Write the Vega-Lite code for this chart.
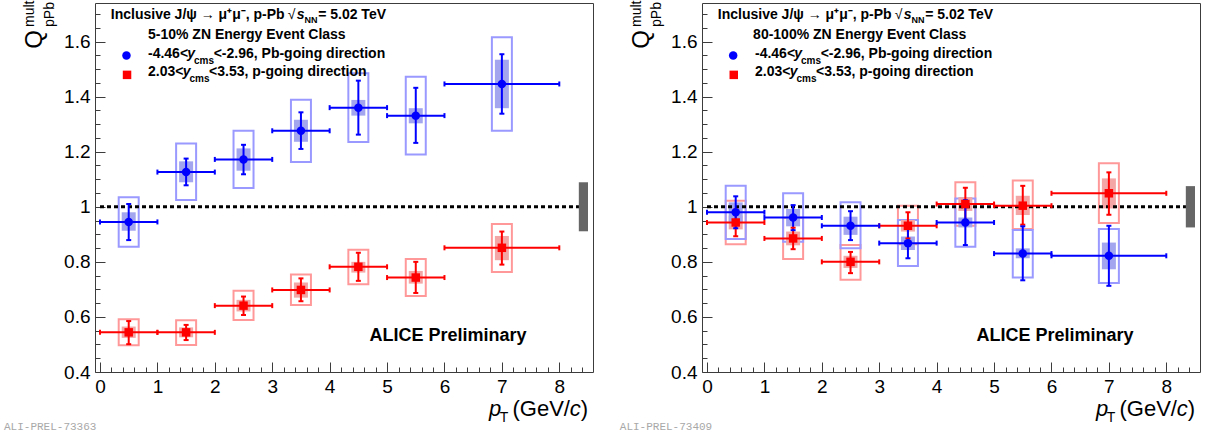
{
 "$schema": "https://vega.github.io/schema/vega-lite/v6.json",
 "padding": {"left": 3, "top": 0, "right": 0, "bottom": 0},
 "background": "white",
 "spacing": 109,
 "bounds": "flush",
 "config": {
  "view": {"stroke": "#3c3c3c", "strokeWidth": 1},
  "axis": {"grid": false, "domain": false, "tickColor": "#3c3c3c", "tickWidth": 1, "labelFont": "Liberation Sans", "labelFontSize": 19, "labelColor": "#000000", "labelFlush": false, "labelOverlap": false},
  "text": {"font": "Liberation Sans"}
 },
 "datasets": {
  "left": [
   {"series": "p", "x": 0.5, "xlo": 0, "xhi": 1, "y": 0.544, "slo": 0.501, "shi": 0.585, "ylo": 0.497, "yhi": 0.592, "clo": 0.524, "chi": 0.565},
   {"series": "p", "x": 1.5, "xlo": 1, "xhi": 2, "y": 0.544, "slo": 0.516, "shi": 0.571, "ylo": 0.498, "yhi": 0.588, "clo": 0.526, "chi": 0.562},
   {"series": "p", "x": 2.5, "xlo": 2, "xhi": 3, "y": 0.641, "slo": 0.607, "shi": 0.674, "ylo": 0.589, "yhi": 0.695, "clo": 0.62, "chi": 0.662},
   {"series": "p", "x": 3.5, "xlo": 3, "xhi": 4, "y": 0.698, "slo": 0.657, "shi": 0.74, "ylo": 0.643, "yhi": 0.754, "clo": 0.67, "chi": 0.725},
   {"series": "p", "x": 4.5, "xlo": 4, "xhi": 5, "y": 0.782, "slo": 0.731, "shi": 0.833, "ylo": 0.719, "yhi": 0.844, "clo": 0.761, "chi": 0.8},
   {"series": "p", "x": 5.5, "xlo": 5, "xhi": 6, "y": 0.743, "slo": 0.687, "shi": 0.8, "ylo": 0.676, "yhi": 0.81, "clo": 0.721, "chi": 0.767},
   {"series": "p", "x": 7, "xlo": 6, "xhi": 8, "y": 0.851, "slo": 0.79, "shi": 0.91, "ylo": 0.763, "yhi": 0.937, "clo": 0.806, "chi": 0.894},
   {"series": "Pb", "x": 0.5, "xlo": 0, "xhi": 1, "y": 0.945, "slo": 0.879, "shi": 1.01, "ylo": 0.855, "yhi": 1.035, "clo": 0.913, "chi": 0.98},
   {"series": "Pb", "x": 1.5, "xlo": 1, "xhi": 2, "y": 1.126, "slo": 1.078, "shi": 1.175, "ylo": 1.025, "yhi": 1.23, "clo": 1.089, "chi": 1.165},
   {"series": "Pb", "x": 2.5, "xlo": 2, "xhi": 3, "y": 1.172, "slo": 1.118, "shi": 1.225, "ylo": 1.068, "yhi": 1.276, "clo": 1.131, "chi": 1.212},
   {"series": "Pb", "x": 3.5, "xlo": 3, "xhi": 4, "y": 1.276, "slo": 1.21, "shi": 1.343, "ylo": 1.163, "yhi": 1.389, "clo": 1.236, "chi": 1.316},
   {"series": "Pb", "x": 4.5, "xlo": 4, "xhi": 5, "y": 1.36, "slo": 1.262, "shi": 1.458, "ylo": 1.235, "yhi": 1.485, "clo": 1.331, "chi": 1.388},
   {"series": "Pb", "x": 5.5, "xlo": 5, "xhi": 6, "y": 1.331, "slo": 1.232, "shi": 1.432, "ylo": 1.19, "yhi": 1.472, "clo": 1.303, "chi": 1.358},
   {"series": "Pb", "x": 7, "xlo": 6, "xhi": 8, "y": 1.446, "slo": 1.338, "shi": 1.554, "ylo": 1.276, "yhi": 1.616, "clo": 1.358, "chi": 1.534}
  ],
  "right": [
   {"series": "p", "x": 0.5, "xlo": 0, "xhi": 1, "y": 0.943, "slo": 0.893, "shi": 0.99, "ylo": 0.864, "yhi": 1.022, "clo": 0.918, "chi": 0.968},
   {"series": "p", "x": 1.5, "xlo": 1, "xhi": 2, "y": 0.885, "slo": 0.846, "shi": 0.924, "ylo": 0.81, "yhi": 0.96, "clo": 0.86, "chi": 0.91},
   {"series": "p", "x": 2.5, "xlo": 2, "xhi": 3, "y": 0.8, "slo": 0.759, "shi": 0.836, "ylo": 0.735, "yhi": 0.861, "clo": 0.778, "chi": 0.822},
   {"series": "p", "x": 3.5, "xlo": 3, "xhi": 4, "y": 0.931, "slo": 0.885, "shi": 0.98, "ylo": 0.864, "yhi": 1.004, "clo": 0.91, "chi": 0.952},
   {"series": "p", "x": 4.5, "xlo": 4, "xhi": 5, "y": 1.01, "slo": 0.952, "shi": 1.069, "ylo": 0.931, "yhi": 1.089, "clo": 0.985, "chi": 1.035},
   {"series": "p", "x": 5.5, "xlo": 5, "xhi": 6, "y": 1.004, "slo": 0.935, "shi": 1.076, "ylo": 0.919, "yhi": 1.095, "clo": 0.97, "chi": 1.04},
   {"series": "p", "x": 7, "xlo": 6, "xhi": 8, "y": 1.049, "slo": 0.971, "shi": 1.125, "ylo": 0.941, "yhi": 1.158, "clo": 0.994, "chi": 1.103},
   {"series": "Pb", "x": 0.5, "xlo": 0, "xhi": 1, "y": 0.98, "slo": 0.922, "shi": 1.038, "ylo": 0.883, "yhi": 1.076, "clo": 0.943, "chi": 1.016},
   {"series": "Pb", "x": 1.5, "xlo": 1, "xhi": 2, "y": 0.961, "slo": 0.915, "shi": 1.006, "ylo": 0.873, "yhi": 1.049, "clo": 0.929, "chi": 0.992},
   {"series": "Pb", "x": 2.5, "xlo": 2, "xhi": 3, "y": 0.931, "slo": 0.879, "shi": 0.984, "ylo": 0.849, "yhi": 1.016, "clo": 0.898, "chi": 0.964},
   {"series": "Pb", "x": 3.5, "xlo": 3, "xhi": 4, "y": 0.868, "slo": 0.813, "shi": 0.925, "ylo": 0.785, "yhi": 0.952, "clo": 0.843, "chi": 0.892},
   {"series": "Pb", "x": 4.5, "xlo": 4, "xhi": 5, "y": 0.943, "slo": 0.861, "shi": 1.024, "ylo": 0.855, "yhi": 1.03, "clo": 0.925, "chi": 0.961},
   {"series": "Pb", "x": 5.5, "xlo": 5, "xhi": 6, "y": 0.83, "slo": 0.733, "shi": 0.929, "ylo": 0.743, "yhi": 0.916, "clo": 0.813, "chi": 0.849},
   {"series": "Pb", "x": 7, "xlo": 6, "xhi": 8, "y": 0.822, "slo": 0.713, "shi": 0.931, "ylo": 0.723, "yhi": 0.919, "clo": 0.773, "chi": 0.87}
  ]
 },
 "hconcat": [
  {
   "width": 498, "height": 369,
   "data": {"name": "left"},
   "resolve": {"axis": {"x": "independent", "y": "independent"}},
   "layer": [
    {"mark": {"type": "bar", "size": 20, "fillOpacity": 0, "strokeWidth": 2},
     "encoding": {"x": {"field": "x", "type": "quantitative", "axis": null}, "y": {"field": "ylo", "type": "quantitative", "axis": null}, "y2": {"field": "yhi"},
      "stroke": {"field": "series", "type": "nominal", "scale": {"domain": ["Pb", "p"], "range": ["#9999ff", "#ff9999"]}, "legend": null}}},
    {"mark": {"type": "bar", "size": 14, "strokeWidth": 0},
     "encoding": {"x": {"field": "x", "type": "quantitative", "axis": null}, "y": {"field": "clo", "type": "quantitative", "axis": null}, "y2": {"field": "chi"},
      "fill": {"field": "series", "type": "nominal", "scale": {"domain": ["Pb", "p"], "range": ["#a3a6ef", "#f4a5a5"]}, "legend": null}}},
    {"data": {"values": [{}]}, "mark": {"type": "rule", "color": "black", "strokeWidth": 3, "strokeDash": [4, 3]},
     "encoding": {
      "x": {"datum": 0, "type": "quantitative", "scale": {"domain": [0, 8.5], "nice": false, "zero": false}, "axis": {"orient": "bottom", "values": [0, 1, 2, 3, 4, 5, 6, 7, 8], "format": "d", "tickSize": -10, "labelPadding": 15, "title": null}},
      "x2": {"datum": 8.35},
      "y": {"datum": 1, "type": "quantitative", "scale": {"domain": [0.4, 1.74], "nice": false, "zero": false}, "axis": {"orient": "left", "values": [0.4, 0.6, 0.8, 1, 1.2, 1.4, 1.6], "format": ".1~f", "tickSize": -10, "labelPadding": 15, "title": null}}}},
    {"data": {"values": [{}]}, "mark": {"type": "rect", "color": "#666666"},
     "encoding": {
      "x": {"datum": 8.34, "type": "quantitative", "axis": {"orient": "bottom", "values": [0.2, 0.4, 0.6, 0.8, 1.2, 1.4, 1.6, 1.8, 2.2, 2.4, 2.6, 2.8, 3.2, 3.4, 3.6, 3.8, 4.2, 4.4, 4.6, 4.8, 5.2, 5.4, 5.6, 5.8, 6.2, 6.4, 6.6, 6.8, 7.2, 7.4, 7.6, 7.8, 8.2, 8.4], "tickSize": -5, "labels": false, "title": null}},
      "x2": {"datum": 8.5},
      "y": {"datum": 0.911, "type": "quantitative", "axis": {"orient": "left", "values": [0.45, 0.5, 0.55, 0.65, 0.7, 0.75, 0.85, 0.9, 0.95, 1.05, 1.1, 1.15, 1.25, 1.3, 1.35, 1.45, 1.5, 1.55, 1.65, 1.7], "tickSize": -5, "labels": false, "title": null}},
      "y2": {"datum": 1.089}}},
    {"mark": {"type": "rule", "strokeWidth": 2},
     "encoding": {"x": {"field": "xlo", "type": "quantitative", "axis": null}, "x2": {"field": "xhi"}, "y": {"field": "y", "type": "quantitative", "axis": null},
      "color": {"field": "series", "type": "nominal", "scale": {"domain": ["Pb", "p"], "range": ["#0000ff", "#ff0000"]}, "legend": null}}},
    {"mark": {"type": "rule", "strokeWidth": 2},
     "encoding": {"x": {"field": "x", "type": "quantitative", "axis": null}, "y": {"field": "slo", "type": "quantitative", "axis": null}, "y2": {"field": "shi"},
      "color": {"field": "series", "type": "nominal", "legend": null}}},
    {"transform": [{"fold": ["xlo", "xhi"], "as": ["k", "xe"]}],
     "mark": {"type": "tick", "orient": "vertical", "size": 5, "thickness": 2, "opacity": 1},
     "encoding": {"x": {"field": "xe", "type": "quantitative", "axis": null}, "y": {"field": "y", "type": "quantitative", "axis": null},
      "color": {"field": "series", "type": "nominal", "legend": null}}},
    {"transform": [{"fold": ["slo", "shi"], "as": ["k", "ye"]}],
     "mark": {"type": "tick", "orient": "horizontal", "size": 5, "thickness": 2, "opacity": 1},
     "encoding": {"x": {"field": "x", "type": "quantitative", "axis": null}, "y": {"field": "ye", "type": "quantitative", "axis": null},
      "color": {"field": "series", "type": "nominal", "legend": null}}},
    {"mark": {"type": "point", "filled": true, "size": 72, "opacity": 1},
     "encoding": {"x": {"field": "x", "type": "quantitative", "axis": null}, "y": {"field": "y", "type": "quantitative", "axis": null},
      "color": {"field": "series", "type": "nominal", "legend": null},
      "shape": {"field": "series", "type": "nominal", "scale": {"domain": ["Pb", "p"], "range": ["circle", "square"]}, "legend": null}}},
    {"data": {"values": [{}]}, "mark": {"type": "point", "filled": true, "size": 72, "opacity": 1, "shape": "circle", "color": "#0000ff"},
     "encoding": {"x": {"datum": 0.461, "axis": null}, "y": {"datum": 1.549, "axis": null}}},
    {"data": {"values": [{}]}, "mark": {"type": "point", "filled": true, "size": 72, "opacity": 1, "shape": "square", "color": "#ff0000"},
     "encoding": {"x": {"datum": 0.471, "axis": null}, "y": {"datum": 1.479, "axis": null}}},
    {"data": {"values": [{}]}, "mark": {"type": "text", "text": "Inclusive J/ψ → μ⁺μ⁻, p-Pb", "fontSize": 14, "fontWeight": "bold", "align": "left", "baseline": "alphabetic"},
     "encoding": {"x": {"datum": 0.188, "axis": null}, "y": {"datum": 1.6825, "axis": null}}},
    {"data": {"values": [{}]}, "mark": {"type": "text", "text": "√", "fontSize": 14, "align": "left", "baseline": "alphabetic"},
     "encoding": {"x": {"datum": 3.27, "axis": null}, "y": {"datum": 1.6825, "axis": null}}},
    {"data": {"values": [{}]}, "mark": {"type": "text", "text": "s", "fontSize": 14, "fontWeight": "bold", "fontStyle": "italic", "align": "left", "baseline": "alphabetic"},
     "encoding": {"x": {"datum": 3.425, "axis": null}, "y": {"datum": 1.6825, "axis": null}}},
    {"data": {"values": [{}]}, "mark": {"type": "text", "text": "NN", "fontSize": 9, "fontWeight": "bold", "align": "left", "baseline": "alphabetic"},
     "encoding": {"x": {"datum": 3.56, "axis": null}, "y": {"datum": 1.668, "axis": null}}},
    {"data": {"values": [{}]}, "mark": {"type": "text", "text": "= 5.02 TeV", "fontSize": 14, "fontWeight": "bold", "align": "left", "baseline": "alphabetic"},
     "encoding": {"x": {"datum": 3.8, "axis": null}, "y": {"datum": 1.6825, "axis": null}}},
    {"data": {"values": [{}]}, "mark": {"type": "text", "text": "5-10% ZN Energy Event Class", "fontSize": 14, "fontWeight": "bold", "align": "left", "baseline": "alphabetic"},
     "encoding": {"x": {"datum": 0.836, "axis": null}, "y": {"datum": 1.61, "axis": null}}},
    {"data": {"values": [{}]}, "mark": {"type": "text", "text": "-4.46<", "fontSize": 14, "fontWeight": "bold", "align": "left", "baseline": "alphabetic"},
     "encoding": {"x": {"datum": 0.836, "axis": null}, "y": {"datum": 1.5396, "axis": null}}},
    {"data": {"values": [{}]}, "mark": {"type": "text", "text": "y", "fontSize": 14, "fontWeight": "bold", "fontStyle": "italic", "align": "left", "baseline": "alphabetic"},
     "encoding": {"x": {"datum": 1.52, "axis": null}, "y": {"datum": 1.5396, "axis": null}}},
    {"data": {"values": [{}]}, "mark": {"type": "text", "text": "cms", "fontSize": 10, "fontWeight": "bold", "align": "left", "baseline": "alphabetic"},
     "encoding": {"x": {"datum": 1.638, "axis": null}, "y": {"datum": 1.519, "axis": null}}},
    {"data": {"values": [{}]}, "mark": {"type": "text", "text": "<-2.96, Pb-going direction", "fontSize": 14, "fontWeight": "bold", "align": "left", "baseline": "alphabetic"},
     "encoding": {"x": {"datum": 1.98, "axis": null}, "y": {"datum": 1.5396, "axis": null}}},
    {"data": {"values": [{}]}, "mark": {"type": "text", "text": "2.03<", "fontSize": 14, "fontWeight": "bold", "align": "left", "baseline": "alphabetic"},
     "encoding": {"x": {"datum": 0.836, "axis": null}, "y": {"datum": 1.474, "axis": null}}},
    {"data": {"values": [{}]}, "mark": {"type": "text", "text": "y", "fontSize": 14, "fontWeight": "bold", "fontStyle": "italic", "align": "left", "baseline": "alphabetic"},
     "encoding": {"x": {"datum": 1.44, "axis": null}, "y": {"datum": 1.474, "axis": null}}},
    {"data": {"values": [{}]}, "mark": {"type": "text", "text": "cms", "fontSize": 10, "fontWeight": "bold", "align": "left", "baseline": "alphabetic"},
     "encoding": {"x": {"datum": 1.56, "axis": null}, "y": {"datum": 1.453, "axis": null}}},
    {"data": {"values": [{}]}, "mark": {"type": "text", "text": "<3.53, p-going direction", "fontSize": 14, "fontWeight": "bold", "align": "left", "baseline": "alphabetic"},
     "encoding": {"x": {"datum": 1.9, "axis": null}, "y": {"datum": 1.474, "axis": null}}},
    {"data": {"values": [{}]}, "mark": {"type": "text", "text": "ALICE Preliminary", "fontSize": 18, "fontWeight": "bold", "align": "left", "baseline": "alphabetic"},
     "encoding": {"x": {"datum": 4.693, "axis": null}, "y": {"datum": 0.513, "axis": null}}},
    {"data": {"values": [{}]}, "mark": {"type": "text", "text": "Q", "fontSize": 24, "angle": 270, "align": "left", "baseline": "alphabetic"},
     "encoding": {"x": {"datum": -1.007, "axis": null}, "y": {"datum": 1.574, "axis": null}}},
    {"data": {"values": [{}]}, "mark": {"type": "text", "text": "mult", "fontSize": 14, "angle": 270, "align": "left", "baseline": "alphabetic"},
     "encoding": {"x": {"datum": -1.143, "axis": null}, "y": {"datum": 1.653, "axis": null}}},
    {"data": {"values": [{}]}, "mark": {"type": "text", "text": "pPb", "fontSize": 14, "angle": 270, "align": "left", "baseline": "alphabetic"},
     "encoding": {"x": {"datum": -0.802, "axis": null}, "y": {"datum": 1.653, "axis": null}}},
    {"data": {"values": [{}]}, "mark": {"type": "text", "text": "p", "fontSize": 22, "fontStyle": "italic", "align": "left", "baseline": "alphabetic"},
     "encoding": {"x": {"datum": 6.775, "axis": null}, "y": {"datum": 0.24, "axis": null}}},
    {"data": {"values": [{}]}, "mark": {"type": "text", "text": "T", "fontSize": 14, "align": "left", "baseline": "alphabetic"},
     "encoding": {"x": {"datum": 6.962, "axis": null}, "y": {"datum": 0.218, "axis": null}}},
    {"data": {"values": [{}]}, "mark": {"type": "text", "text": "(GeV/", "fontSize": 22, "align": "right", "baseline": "alphabetic"},
     "encoding": {"x": {"datum": 8.186, "axis": null}, "y": {"datum": 0.24, "axis": null}}},
    {"data": {"values": [{}]}, "mark": {"type": "text", "text": "c", "fontSize": 22, "fontStyle": "italic", "align": "right", "baseline": "alphabetic"},
     "encoding": {"x": {"datum": 8.374, "axis": null}, "y": {"datum": 0.24, "axis": null}}},
    {"data": {"values": [{}]}, "mark": {"type": "text", "text": ")", "fontSize": 22, "align": "right", "baseline": "alphabetic"},
     "encoding": {"x": {"datum": 8.5, "axis": null}, "y": {"datum": 0.24, "axis": null}}},
    {"data": {"values": [{}]}, "mark": {"type": "text", "text": "ALI-PREL-73363", "font": "Liberation Mono", "fontSize": 11, "color": "#a8a8a8", "align": "left", "baseline": "alphabetic"},
     "encoding": {"x": {"datum": -1.672, "axis": null}, "y": {"datum": 0.19, "axis": null}}}
   ]
  },
  {
   "width": 498, "height": 369,
   "data": {"name": "right"},
   "resolve": {"axis": {"x": "independent", "y": "independent"}},
   "layer": [
    {"mark": {"type": "bar", "size": 20, "fillOpacity": 0, "strokeWidth": 2},
     "encoding": {"x": {"field": "x", "type": "quantitative", "axis": null}, "y": {"field": "ylo", "type": "quantitative", "axis": null}, "y2": {"field": "yhi"},
      "stroke": {"field": "series", "type": "nominal", "scale": {"domain": ["Pb", "p"], "range": ["#9999ff", "#ff9999"]}, "legend": null}}},
    {"mark": {"type": "bar", "size": 14, "strokeWidth": 0},
     "encoding": {"x": {"field": "x", "type": "quantitative", "axis": null}, "y": {"field": "clo", "type": "quantitative", "axis": null}, "y2": {"field": "chi"},
      "fill": {"field": "series", "type": "nominal", "scale": {"domain": ["Pb", "p"], "range": ["#a3a6ef", "#f4a5a5"]}, "legend": null}}},
    {"data": {"values": [{}]}, "mark": {"type": "rule", "color": "black", "strokeWidth": 3, "strokeDash": [4, 3]},
     "encoding": {
      "x": {"datum": 0, "type": "quantitative", "scale": {"domain": [0, 8.5], "nice": false, "zero": false}, "axis": {"orient": "bottom", "values": [0, 1, 2, 3, 4, 5, 6, 7, 8], "format": "d", "tickSize": -10, "labelPadding": 15, "title": null}},
      "x2": {"datum": 8.35},
      "y": {"datum": 1, "type": "quantitative", "scale": {"domain": [0.4, 1.74], "nice": false, "zero": false}, "axis": {"orient": "left", "values": [0.4, 0.6, 0.8, 1, 1.2, 1.4, 1.6], "format": ".1~f", "tickSize": -10, "labelPadding": 15, "title": null}}}},
    {"data": {"values": [{}]}, "mark": {"type": "rect", "color": "#666666"},
     "encoding": {
      "x": {"datum": 8.34, "type": "quantitative", "axis": {"orient": "bottom", "values": [0.2, 0.4, 0.6, 0.8, 1.2, 1.4, 1.6, 1.8, 2.2, 2.4, 2.6, 2.8, 3.2, 3.4, 3.6, 3.8, 4.2, 4.4, 4.6, 4.8, 5.2, 5.4, 5.6, 5.8, 6.2, 6.4, 6.6, 6.8, 7.2, 7.4, 7.6, 7.8, 8.2, 8.4], "tickSize": -5, "labels": false, "title": null}},
      "x2": {"datum": 8.5},
      "y": {"datum": 0.925, "type": "quantitative", "axis": {"orient": "left", "values": [0.45, 0.5, 0.55, 0.65, 0.7, 0.75, 0.85, 0.9, 0.95, 1.05, 1.1, 1.15, 1.25, 1.3, 1.35, 1.45, 1.5, 1.55, 1.65, 1.7], "tickSize": -5, "labels": false, "title": null}},
      "y2": {"datum": 1.075}}},
    {"mark": {"type": "rule", "strokeWidth": 2},
     "encoding": {"x": {"field": "xlo", "type": "quantitative", "axis": null}, "x2": {"field": "xhi"}, "y": {"field": "y", "type": "quantitative", "axis": null},
      "color": {"field": "series", "type": "nominal", "scale": {"domain": ["Pb", "p"], "range": ["#0000ff", "#ff0000"]}, "legend": null}}},
    {"mark": {"type": "rule", "strokeWidth": 2},
     "encoding": {"x": {"field": "x", "type": "quantitative", "axis": null}, "y": {"field": "slo", "type": "quantitative", "axis": null}, "y2": {"field": "shi"},
      "color": {"field": "series", "type": "nominal", "legend": null}}},
    {"transform": [{"fold": ["xlo", "xhi"], "as": ["k", "xe"]}],
     "mark": {"type": "tick", "orient": "vertical", "size": 5, "thickness": 2, "opacity": 1},
     "encoding": {"x": {"field": "xe", "type": "quantitative", "axis": null}, "y": {"field": "y", "type": "quantitative", "axis": null},
      "color": {"field": "series", "type": "nominal", "legend": null}}},
    {"transform": [{"fold": ["slo", "shi"], "as": ["k", "ye"]}],
     "mark": {"type": "tick", "orient": "horizontal", "size": 5, "thickness": 2, "opacity": 1},
     "encoding": {"x": {"field": "x", "type": "quantitative", "axis": null}, "y": {"field": "ye", "type": "quantitative", "axis": null},
      "color": {"field": "series", "type": "nominal", "legend": null}}},
    {"mark": {"type": "point", "filled": true, "size": 72, "opacity": 1},
     "encoding": {"x": {"field": "x", "type": "quantitative", "axis": null}, "y": {"field": "y", "type": "quantitative", "axis": null},
      "color": {"field": "series", "type": "nominal", "legend": null},
      "shape": {"field": "series", "type": "nominal", "scale": {"domain": ["Pb", "p"], "range": ["circle", "square"]}, "legend": null}}},
    {"data": {"values": [{}]}, "mark": {"type": "point", "filled": true, "size": 72, "opacity": 1, "shape": "circle", "color": "#0000ff"},
     "encoding": {"x": {"datum": 0.456, "axis": null}, "y": {"datum": 1.549, "axis": null}}},
    {"data": {"values": [{}]}, "mark": {"type": "point", "filled": true, "size": 72, "opacity": 1, "shape": "square", "color": "#ff0000"},
     "encoding": {"x": {"datum": 0.466, "axis": null}, "y": {"datum": 1.479, "axis": null}}},
    {"data": {"values": [{}]}, "mark": {"type": "text", "text": "Inclusive J/ψ → μ⁺μ⁻, p-Pb", "fontSize": 14, "fontWeight": "bold", "align": "left", "baseline": "alphabetic"},
     "encoding": {"x": {"datum": 0.188, "axis": null}, "y": {"datum": 1.6825, "axis": null}}},
    {"data": {"values": [{}]}, "mark": {"type": "text", "text": "√", "fontSize": 14, "align": "left", "baseline": "alphabetic"},
     "encoding": {"x": {"datum": 3.27, "axis": null}, "y": {"datum": 1.6825, "axis": null}}},
    {"data": {"values": [{}]}, "mark": {"type": "text", "text": "s", "fontSize": 14, "fontWeight": "bold", "fontStyle": "italic", "align": "left", "baseline": "alphabetic"},
     "encoding": {"x": {"datum": 3.425, "axis": null}, "y": {"datum": 1.6825, "axis": null}}},
    {"data": {"values": [{}]}, "mark": {"type": "text", "text": "NN", "fontSize": 9, "fontWeight": "bold", "align": "left", "baseline": "alphabetic"},
     "encoding": {"x": {"datum": 3.56, "axis": null}, "y": {"datum": 1.668, "axis": null}}},
    {"data": {"values": [{}]}, "mark": {"type": "text", "text": "= 5.02 TeV", "fontSize": 14, "fontWeight": "bold", "align": "left", "baseline": "alphabetic"},
     "encoding": {"x": {"datum": 3.8, "axis": null}, "y": {"datum": 1.6825, "axis": null}}},
    {"data": {"values": [{}]}, "mark": {"type": "text", "text": "80-100% ZN Energy Event Class", "fontSize": 14, "fontWeight": "bold", "align": "left", "baseline": "alphabetic"},
     "encoding": {"x": {"datum": 0.803, "axis": null}, "y": {"datum": 1.61, "axis": null}}},
    {"data": {"values": [{}]}, "mark": {"type": "text", "text": "-4.46<", "fontSize": 14, "fontWeight": "bold", "align": "left", "baseline": "alphabetic"},
     "encoding": {"x": {"datum": 0.836, "axis": null}, "y": {"datum": 1.5396, "axis": null}}},
    {"data": {"values": [{}]}, "mark": {"type": "text", "text": "y", "fontSize": 14, "fontWeight": "bold", "fontStyle": "italic", "align": "left", "baseline": "alphabetic"},
     "encoding": {"x": {"datum": 1.52, "axis": null}, "y": {"datum": 1.5396, "axis": null}}},
    {"data": {"values": [{}]}, "mark": {"type": "text", "text": "cms", "fontSize": 10, "fontWeight": "bold", "align": "left", "baseline": "alphabetic"},
     "encoding": {"x": {"datum": 1.638, "axis": null}, "y": {"datum": 1.519, "axis": null}}},
    {"data": {"values": [{}]}, "mark": {"type": "text", "text": "<-2.96, Pb-going direction", "fontSize": 14, "fontWeight": "bold", "align": "left", "baseline": "alphabetic"},
     "encoding": {"x": {"datum": 1.98, "axis": null}, "y": {"datum": 1.5396, "axis": null}}},
    {"data": {"values": [{}]}, "mark": {"type": "text", "text": "2.03<", "fontSize": 14, "fontWeight": "bold", "align": "left", "baseline": "alphabetic"},
     "encoding": {"x": {"datum": 0.836, "axis": null}, "y": {"datum": 1.474, "axis": null}}},
    {"data": {"values": [{}]}, "mark": {"type": "text", "text": "y", "fontSize": 14, "fontWeight": "bold", "fontStyle": "italic", "align": "left", "baseline": "alphabetic"},
     "encoding": {"x": {"datum": 1.44, "axis": null}, "y": {"datum": 1.474, "axis": null}}},
    {"data": {"values": [{}]}, "mark": {"type": "text", "text": "cms", "fontSize": 10, "fontWeight": "bold", "align": "left", "baseline": "alphabetic"},
     "encoding": {"x": {"datum": 1.56, "axis": null}, "y": {"datum": 1.453, "axis": null}}},
    {"data": {"values": [{}]}, "mark": {"type": "text", "text": "<3.53, p-going direction", "fontSize": 14, "fontWeight": "bold", "align": "left", "baseline": "alphabetic"},
     "encoding": {"x": {"datum": 1.9, "axis": null}, "y": {"datum": 1.474, "axis": null}}},
    {"data": {"values": [{}]}, "mark": {"type": "text", "text": "ALICE Preliminary", "fontSize": 18, "fontWeight": "bold", "align": "left", "baseline": "alphabetic"},
     "encoding": {"x": {"datum": 4.693, "axis": null}, "y": {"datum": 0.513, "axis": null}}},
    {"data": {"values": [{}]}, "mark": {"type": "text", "text": "Q", "fontSize": 24, "angle": 270, "align": "left", "baseline": "alphabetic"},
     "encoding": {"x": {"datum": -1.007, "axis": null}, "y": {"datum": 1.574, "axis": null}}},
    {"data": {"values": [{}]}, "mark": {"type": "text", "text": "mult", "fontSize": 14, "angle": 270, "align": "left", "baseline": "alphabetic"},
     "encoding": {"x": {"datum": -1.143, "axis": null}, "y": {"datum": 1.653, "axis": null}}},
    {"data": {"values": [{}]}, "mark": {"type": "text", "text": "pPb", "fontSize": 14, "angle": 270, "align": "left", "baseline": "alphabetic"},
     "encoding": {"x": {"datum": -0.802, "axis": null}, "y": {"datum": 1.653, "axis": null}}},
    {"data": {"values": [{}]}, "mark": {"type": "text", "text": "p", "fontSize": 22, "fontStyle": "italic", "align": "left", "baseline": "alphabetic"},
     "encoding": {"x": {"datum": 6.775, "axis": null}, "y": {"datum": 0.24, "axis": null}}},
    {"data": {"values": [{}]}, "mark": {"type": "text", "text": "T", "fontSize": 14, "align": "left", "baseline": "alphabetic"},
     "encoding": {"x": {"datum": 6.962, "axis": null}, "y": {"datum": 0.218, "axis": null}}},
    {"data": {"values": [{}]}, "mark": {"type": "text", "text": "(GeV/", "fontSize": 22, "align": "right", "baseline": "alphabetic"},
     "encoding": {"x": {"datum": 8.186, "axis": null}, "y": {"datum": 0.24, "axis": null}}},
    {"data": {"values": [{}]}, "mark": {"type": "text", "text": "c", "fontSize": 22, "fontStyle": "italic", "align": "right", "baseline": "alphabetic"},
     "encoding": {"x": {"datum": 8.374, "axis": null}, "y": {"datum": 0.24, "axis": null}}},
    {"data": {"values": [{}]}, "mark": {"type": "text", "text": ")", "fontSize": 22, "align": "right", "baseline": "alphabetic"},
     "encoding": {"x": {"datum": 8.5, "axis": null}, "y": {"datum": 0.24, "axis": null}}},
    {"data": {"values": [{}]}, "mark": {"type": "text", "text": "ALI-PREL-73409", "font": "Liberation Mono", "fontSize": 11, "color": "#a8a8a8", "align": "left", "baseline": "alphabetic"},
     "encoding": {"x": {"datum": -1.519, "axis": null}, "y": {"datum": 0.19, "axis": null}}}
   ]
  }
 ]
}
